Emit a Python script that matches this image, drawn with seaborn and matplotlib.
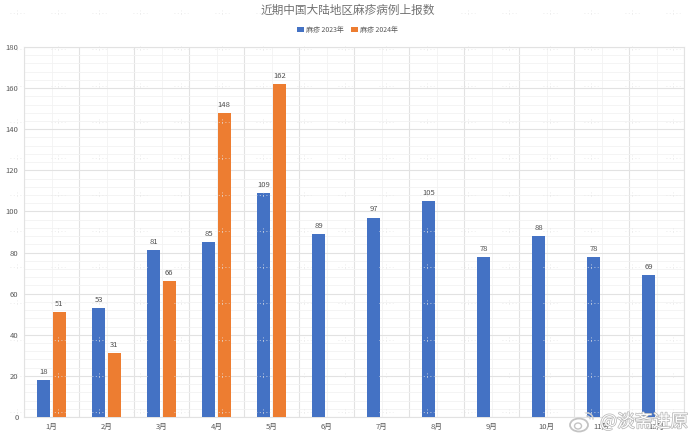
import pandas as pd
import seaborn as sns
import matplotlib.pyplot as plt
import matplotlib.patheffects as pe
from matplotlib.lines import Line2D
from matplotlib.patches import Arc, Ellipse
from matplotlib.ticker import MultipleLocator

months = ['1月', '2月', '3月', '4月', '5月', '6月', '7月', '8月', '9月', '10月', '11月', '12月']
cases_2023 = [18, 53, 81, 85, 109, 89, 97, 105, 78, 88, 78, 69]
cases_2024 = [51, 31, 66, 148, 162, None, None, None, None, None, None, None]
series_names = ['麻疹 2023年', '麻疹 2024年']
title = '近期中国大陆地区麻疹病例上报数'
watermark = '@淡斋进原'

W, H = 690, 436


def fx(px):
    return px / W


def fy(px):
    return 1 - px / H


sns.set_theme(style='white')
plt.rcParams['font.family'] = ['Noto Sans CJK SC', 'DejaVu Sans']

data = pd.DataFrame({
    'month': months * 2,
    'series': [series_names[0]] * 12 + [series_names[1]] * 12,
    'cases': cases_2023 + cases_2024,
})

fig = plt.figure(figsize=(6.9, 4.36), dpi=100)
ax = fig.add_axes([fx(24), fy(417), 660 / W, 370 / H])

sns.barplot(data=data, x='month', y='cases', hue='series', order=months,
            palette=['#4472C4', '#ED7D31'], width=0.565, gap=0.19, linewidth=0,
            saturation=1, legend=True, ax=ax, zorder=3)

ax.set_xlim(-0.5, 11.5)
ax.set_ylim(0, 180)
ax.set_xlabel('')
ax.set_ylabel('')

# major and minor grid like the spreadsheet chart
ax.yaxis.set_major_locator(MultipleLocator(20))
ax.yaxis.set_minor_locator(MultipleLocator(4))
ax.set_xticks([i - 0.5 for i in range(13)], minor=True)
ax.set_xticks(range(12), months)
ax.grid(which='major', axis='y', color='#e2e2e2', lw=0.8, zorder=0)
ax.grid(which='minor', axis='y', color='#f2f2f2', lw=0.6, zorder=0)
ax.grid(which='minor', axis='x', color='#e2e2e2', lw=0.8, zorder=0)
for i in range(12):
    ax.axvline(i, color='#f2f2f2', lw=0.6, zorder=0)
ax.tick_params(which='both', length=0)
ax.tick_params(axis='both', labelsize=5.5, labelcolor='#595959', pad=4)
for side in ax.spines:
    ax.spines[side].set_color('#e2e2e2')
    ax.spines[side].set_linewidth(0.8)

for container in ax.containers:
    ax.bar_label(container, fmt='%d', fontsize=5.5, color='#505050', padding=3)

ax.legend(loc='center', bbox_to_anchor=((347.5 - 24) / 660, (417 - 30) / 370), ncol=2, frameon=False,
          fontsize=5, handlelength=0.9, handleheight=0.9, handletextpad=0.3,
          columnspacing=1.1, labelcolor='#595959', borderpad=0, borderaxespad=0)

fig.text(fx(347.5), fy(10), title, ha='center', va='center', fontsize=8.4, color='#707070')

# faint tiled watermark specks seen across the screenshot
for col in range(17):
    for row in range(12):
        x0, y0 = 16.7 + 41 * col, 13 + 36.3 * row
        fig.add_artist(Line2D([fx(x0 - 7), fx(x0 + 7)], [fy(y0), fy(y0)], color='#e6e6e6', lw=0.6,
                              dashes=(1, 3), zorder=5))
        fig.add_artist(Line2D([fx(x0), fx(x0)], [fy(y0 - 3), fy(y0 + 3)], color='#e6e6e6', lw=0.6,
                              dashes=(1, 3), zorder=5))

# weibo mark and handle in the corner
outline = [pe.withStroke(linewidth=1.0, foreground='#b4b4b4')]
for patch in [
    Ellipse((fx(579), fy(425)), 18 / W, 13 / H, fill=False, ec='#c4c4c4', lw=1.3, transform=fig.transFigure),
    Ellipse((fx(578), fy(426)), 7 / W, 6 / H, fill=False, ec='#c4c4c4', lw=1.0, transform=fig.transFigure),
    Arc((fx(587), fy(419)), 12 / W, 12 / H, theta1=-10, theta2=100, ec='#d0d0d0', lw=1.1, transform=fig.transFigure),
    Arc((fx(587), fy(419)), 6 / W, 6 / H, theta1=-10, theta2=100, ec='#d0d0d0', lw=1.0, transform=fig.transFigure),
]:
    patch.set_zorder(6)
    fig.add_artist(patch)
wm = fig.text(fx(688), fy(422), watermark, ha='right', va='center', fontsize=12.8, color='white', zorder=6)
wm.set_path_effects(outline)

plt.savefig('out.png', dpi=100)
